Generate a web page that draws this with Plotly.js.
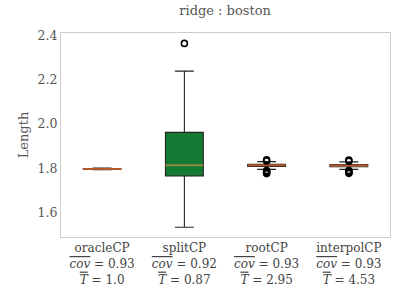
<!DOCTYPE html>
<html>
<head>
<meta charset="utf-8">
<script src="https://cdn.plot.ly/plotly-3.0.1.min.js"></script>
<style>html,body{margin:0;padding:0;background:#fff;}#plot{width:407px;height:305px;}</style>
</head>
<body>
<div id="plot"></div>
<script>
const methods = ['oracleCP', 'splitCP', 'rootCP', 'interpolCP'];
const covBar = ['0.93', '0.92', '0.93', '0.93'];
const timeBar = ['1.0', '0.87', '2.95', '4.53'];
const q1 = [1.796, 1.765, 1.808, 1.807];
const medians = [1.797, 1.8135, 1.8135, 1.8125];
const q3 = [1.798, 1.962, 1.818, 1.817];
const lowerFence = [1.7935, 1.534, 1.795, 1.795];
const upperFence = [1.8005, 2.238, 1.830, 1.829];
const outliers = [
  [],
  [2.363],
  [1.838, 1.833, 1.790, 1.785, 1.780, 1.776],
  [1.837, 1.832, 1.790, 1.785, 1.780, 1.777]
];
const boxFill = ['#b8b8b8', '#137a33', '#d8d8d8', '#d8d8d8'];
const medianColor = ['#b4592c', '#8f8a3c', '#b4592c', '#b4592c'];

const positions = methods.map((m, i) => i + 1);
const halfW = 0.23;
const traces = [];
methods.forEach((m, i) => {
  traces.push({
    type: 'box', x: [positions[i]],
    q1: [q1[i]], median: [medians[i]], q3: [q3[i]],
    lowerfence: [lowerFence[i]], upperfence: [upperFence[i]],
    width: halfW * 2, whiskerwidth: 0.5,
    fillcolor: boxFill[i], line: {color: '#222', width: 1.1},
    boxpoints: false, hoverinfo: 'skip', showlegend: false
  });
});
methods.forEach((m, i) => {
  traces.push({
    type: 'scatter', mode: 'lines',
    x: [positions[i] - halfW, positions[i] + halfW], y: [medians[i], medians[i]],
    line: {color: medianColor[i], width: 2}, hoverinfo: 'skip', showlegend: false
  });
  if (outliers[i].length) {
    traces.push({
      type: 'scatter', mode: 'markers',
      x: outliers[i].map(() => positions[i]), y: outliers[i],
      marker: {symbol: 'circle-open', size: 6, color: '#000', line: {width: 1.6, color: '#000'}},
      hoverinfo: 'skip', showlegend: false
    });
  }
});

const ov = s => "<span style='text-decoration:overline'><i>" + s + "</i></span>";
const tickText = methods.map((m, i) => m + '<br>' + ov('cov') + ' = ' + covBar[i] + '<br>' + ov('T') + ' = ' + timeBar[i]);

const font = {family: 'DejaVu Serif, serif', size: 13, color: '#444'};
const layout = {
  width: 407, height: 305,
  margin: {l: 61, r: 17, t: 33, b: 68},
  paper_bgcolor: '#fff', plot_bgcolor: '#fff',
  font: font,
  title: {text: 'ridge : boston', font: {family: 'DejaVu Serif, serif', size: 13, color: '#555'}, x: 0.553, xanchor: 'center', y: 0.965, yanchor: 'middle'},
  xaxis: {
    range: [0.5, 4.5], tickvals: positions, ticktext: tickText,
    showgrid: false, zeroline: false, showline: true, mirror: true, linecolor: '#cccccc', linewidth: 1,
    ticks: '', tickfont: {family: 'DejaVu Serif, serif', size: 12, color: '#444'}
  },
  yaxis: {
    range: [1.49, 2.41], tickvals: [1.6, 1.8, 2.0, 2.2, 2.4], ticktext: ['1.6', '1.8', '2.0', '2.2', '2.4'],
    showgrid: false, zeroline: false, showline: true, mirror: true, linecolor: '#cccccc', linewidth: 1,
    ticks: '', ticklen: 0, tickfont: {family: 'DejaVu Serif, serif', size: 12.5, color: '#555'},
    title: {text: 'Length', font: {family: 'DejaVu Serif, serif', size: 13, color: '#555'}, standoff: 6}
  }
};
Plotly.newPlot('plot', traces, layout, {displayModeBar: false, staticPlot: true});
</script>
</body>
</html>
